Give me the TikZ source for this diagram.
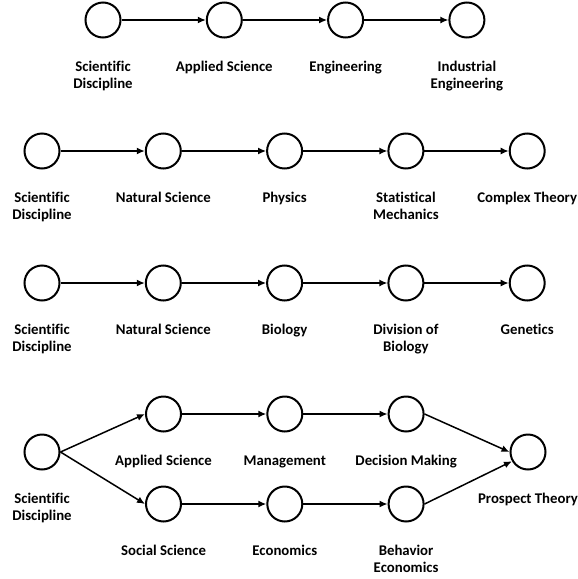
\documentclass[tikz,border=0pt]{standalone}
\usepackage{fontspec}
\setmainfont{Carlito}[Ligatures=CommonOff]
\usepackage{tikz}
\usetikzlibrary{positioning,arrows.meta}

\begin{document}
\begin{tikzpicture}[
		x=1pt, y=-1pt,
		node distance=84.3pt,
		circnode/.style={circle, draw=black, line width=2pt, minimum size=35pt, inner sep=0pt},
		textnode/.style={anchor=base, align=center, inner sep=0pt, font=\bfseries\fontsize{14.8}{17.6}\selectfont},
		twolines/.style={yshift=-17.6pt},
		arrowline/.style={line width=1.5pt, -{Latex[length=8pt,width=7pt]}},
	]
		\useasboundingbox (0,0) rectangle (578,579);

		% nodes
		\node[circnode] (sd1) at (103,20) {};
		\node[circnode] (as1) [right=of sd1] {};
		\node[circnode] (eng1) [right=of as1] {};
		\node[circnode] (ie1) [right=of eng1] {};

		\node[circnode] (sd2) at (42,151) {};
		\node[circnode] (ns2) [right=of sd2] {};
		\node[circnode] (phy2) [right=of ns2] {};
		\node[circnode] (sm2) [right=of phy2] {};
		\node[circnode] (ct2) [right=of sm2] {};

		\node[circnode] (sd3) at (42,283) {};
		\node[circnode] (ns3) [right=of sd3] {};
		\node[circnode] (bio3) [right=of ns3] {};
		\node[circnode] (db3) [right=of bio3] {};
		\node[circnode] (gen3) [right=of db3] {};

		\node[circnode] (sd4) at (42,452) {};
		\node[circnode] (as4) at (163.5,414) {};
		\node[circnode] (man4) [right=of as4] {};
		\node[circnode] (dm4) [right=of man4] {};
		\node[circnode] (ss4) at (163.5,504) {};
		\node[circnode] (eco4) [right=of ss4] {};
		\node[circnode] (be4) [right=of eco4] {};
		\node[circnode] (pt4) at (528,452) {};

		% texts
		\node[textnode, twolines] (sd1t) at ([yshift=-51pt]sd1.center) {Scientific\\Discipline};
		\node[textnode] (as1t) at ([yshift=-51pt]as1.center) {Applied Science};
		\node[textnode] (eng1t) at ([yshift=-51pt]eng1.center) {Engineering};
		\node[textnode, twolines] (ie1t) at ([yshift=-51pt]ie1.center) {Industrial\\Engineering};

		\node[textnode, twolines] (sd2t) at ([yshift=-51pt]sd2.center) {Scientific\\Discipline};
		\node[textnode] (ns2t) at ([yshift=-51pt]ns2.center) {Natural Science};
		\node[textnode] (phy2t) at ([yshift=-51pt]phy2.center) {Physics};
		\node[textnode, twolines] (sm2t) at ([yshift=-51pt]sm2.center) {Statistical\\Mechanics};
		\node[textnode] (ct2t) at ([yshift=-51pt]ct2.center) {Complex Theory};

		\node[textnode, twolines] (sd3t) at ([yshift=-51pt]sd3.center) {Scientific\\Discipline};
		\node[textnode] (ns3t) at ([yshift=-51pt]ns3.center) {Natural Science};
		\node[textnode] (bio3t) at ([yshift=-51pt]bio3.center) {Biology};
		\node[textnode, twolines] (db3t) at ([yshift=-51pt]db3.center) {Division of\\Biology};
		\node[textnode] (gen3t) at ([yshift=-51pt]gen3.center) {Genetics};

		\node[textnode, twolines] (sd4t) at ([yshift=-51pt]sd4.center) {Scientific\\Discipline};
		\node[textnode] (as4t) at ([yshift=-51pt]as4.center) {Applied Science};
		\node[textnode] (man4t) at ([yshift=-51pt]man4.center) {Management};
		\node[textnode] (dm4t) at ([yshift=-51pt]dm4.center) {Decision Making};
		\node[textnode] (ss4t) at ([yshift=-51pt]ss4.center) {Social Science};
		\node[textnode] (eco4t) at ([yshift=-51pt]eco4.center) {Economics};
		\node[textnode, twolines] (be4t) at ([yshift=-51pt]be4.center) {Behavior\\Economics};
		\node[textnode] (pt4t) at ([yshift=-51pt]pt4.center) {Prospect Theory};

		% lines
		\draw[arrowline] (sd1.east) -- (as1.west);
		\draw[arrowline] (as1.east) -- (eng1.west);
		\draw[arrowline] (eng1.east) -- (ie1.west);

		\draw[arrowline] (sd2.east) -- (ns2.west);
		\draw[arrowline] (ns2.east) -- (phy2.west);
		\draw[arrowline] (phy2.east) -- (sm2.west);
		\draw[arrowline] (sm2.east) -- (ct2.west);

		\draw[arrowline] (sd3.east) -- (ns3.west);
		\draw[arrowline] (ns3.east) -- (bio3.west);
		\draw[arrowline] (bio3.east) -- (db3.west);
		\draw[arrowline] (db3.east) -- (gen3.west);

		\draw[arrowline] (sd4.east) -- (as4.west);
		\draw[arrowline] (sd4.east) -- (ss4.west);
		\draw[arrowline] (as4.east) -- (man4.west);
		\draw[arrowline] (man4.east) -- (dm4.west);
		\draw[arrowline] (ss4.east) -- (eco4.west);
		\draw[arrowline] (eco4.east) -- (be4.west);
		\draw[arrowline] (dm4.east) -- (pt4.west);
		\draw[arrowline] (be4.east) -- (pt4.210);
	\end{tikzpicture}
\end{document}
